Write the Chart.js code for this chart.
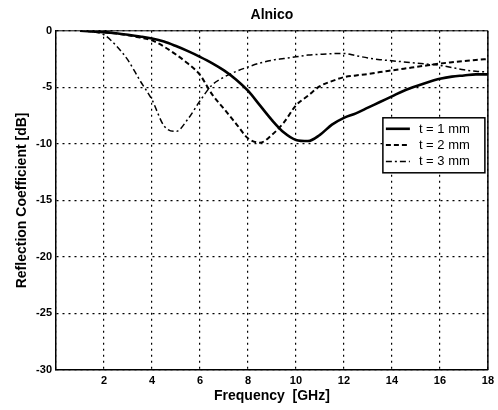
<!DOCTYPE html>
<html>
<head>
<meta charset="utf-8">
<script src="https://cdn.jsdelivr.net/npm/chart.js"></script>
<style>
  html, body { margin: 0; padding: 0; background: #fff; }
  #wrap { width: 498px; height: 410px; }
</style>
</head>
<body>
<div id="wrap"><canvas id="myChart" width="498" height="410"></canvas></div>
<script>
    // frequency points (GHz)
    var freqGHz = [1, 1.5, 2, 2.5, 3, 3.5, 4, 4.5, 5, 5.5, 6, 6.5, 7, 7.5, 8, 8.5, 9, 9.5,
        10, 10.5, 11, 11.5, 12, 12.5, 13, 13.5, 14, 14.5, 15, 15.5, 16, 16.5, 17, 17.5, 18];

    // reflection coefficient [dB]
    var t1mm = [0, -0.05, -0.12, -0.22, -0.35, -0.5, -0.68, -0.95, -1.35, -1.8, -2.3, -2.85, -3.5, -4.3, -5.3, -6.6,
        -7.9, -9.0, -9.65, -9.75, -9.2, -8.3, -7.7, -7.3, -6.8, -6.3, -5.8, -5.3, -4.9, -4.55, -4.25, -4.05, -3.95, -3.85, -3.85];
    var t2mm = [0, -0.05, -0.12, -0.25, -0.4, -0.6, -0.85, -1.4, -2.1, -2.9, -3.9, -5.6, -6.9, -8.2, -9.5, -9.9,
        -9.2, -8.1, -6.6, -5.75, -4.9, -4.45, -4.1, -3.95, -3.82, -3.65, -3.5, -3.35, -3.2, -3.05, -2.9, -2.78, -2.67, -2.58, -2.5];
    var t3mm = [0, -0.08, -0.35, -1.3, -2.6, -4.4, -6.1, -8.4, -8.9, -7.8, -6.2, -4.8, -4.1, -3.6, -3.2, -2.85,
        -2.6, -2.45, -2.3, -2.15, -2.08, -2.02, -2.0, -2.2, -2.4, -2.55, -2.65, -2.75, -2.85, -2.95, -3.05, -3.25, -3.45, -3.58, -3.65];

    var seriesLabels = ['t = 1 mm', 't = 2 mm', 't = 3 mm'];
    var xTicks = [2, 4, 6, 8, 10, 12, 14, 16, 18];
    var yTicks = [0, -5, -10, -15, -20, -25, -30];

    var FONT = "'Liberation Sans', Arial, sans-serif";

    function toPoints(vals) {
        return vals.map(function (v, i) { return { x: freqGHz[i], y: v }; });
    }

    // box around the plot (top/right edges) and the in-plot legend
    var boxAndLegend = {
        id: 'boxAndLegend',
        afterDraw: function (chart) {
            var ctx = chart.ctx, a = chart.chartArea;
            ctx.save();
            ctx.strokeStyle = '#000';
            ctx.lineWidth = 1;
            ctx.beginPath();
            ctx.moveTo(a.left, a.top);
            ctx.lineTo(a.right, a.top);
            ctx.stroke();
            ctx.lineWidth = 1.5;
            ctx.beginPath();
            ctx.moveTo(a.right, a.top);
            ctx.lineTo(a.right, a.bottom);
            ctx.stroke();

            // legend
            var lx = a.right - 105, ly = a.top + 87, lw = 102, lh = 55;
            ctx.fillStyle = '#fff';
            ctx.fillRect(lx, ly, lw, lh);
            ctx.lineWidth = 1.5;
            ctx.strokeRect(lx, ly, lw, lh);
            ctx.font = '13px ' + FONT;
            ctx.textBaseline = 'middle';
            ctx.fillStyle = '#000';
            chart.data.datasets.forEach(function (ds, i) {
                var yy = ly + 11 + i * 16.3;
                ctx.beginPath();
                ctx.lineWidth = ds.borderWidth;
                ctx.setLineDash(ds.borderDash || []);
                ctx.moveTo(lx + 3, yy);
                ctx.lineTo(lx + 27, yy);
                ctx.stroke();
                ctx.setLineDash([]);
                ctx.fillText(ds.label, lx + 36, yy + 0.5);
            });
            ctx.restore();
        }
    };

    var ctx = document.getElementById('myChart').getContext('2d');
    window.myChart = new Chart(ctx, {
        type: 'line',
        data: {
            datasets: [{
                label: seriesLabels[0],
                data: toPoints(t1mm),
                borderColor: '#000',
                borderWidth: 2.6,
                borderDash: []
            }, {
                label: seriesLabels[1],
                data: toPoints(t2mm),
                borderColor: '#000',
                borderWidth: 2,
                borderDash: [5, 3]
            }, {
                label: seriesLabels[2],
                data: toPoints(t3mm),
                borderColor: '#000',
                borderWidth: 1.5,
                borderDash: [6, 3, 2, 3]
            }]
        },
        options: {
            responsive: false,
            animation: false,
            devicePixelRatio: 1,
            layout: { padding: { right: 7, left: 0, top: 0, bottom: 0 } },
            elements: {
                point: { radius: 0 },
                line: { cubicInterpolationMode: 'monotone', fill: false }
            },
            plugins: {
                legend: { display: false },
                tooltip: { enabled: false },
                title: {
                    display: true,
                    fullSize: false,
                    text: 'Alnico',
                    color: '#000',
                    font: { family: FONT, size: 14, weight: 'bold' },
                    padding: { top: 7, bottom: 7 }
                }
            },
            scales: {
                x: {
                    type: 'linear',
                    min: 0,
                    max: 18,
                    afterFit: function (s) { s.height = 40; },
                    afterBuildTicks: function (s) {
                        s.ticks = [0].concat(xTicks).map(function (v) { return { value: v }; });
                    },
                    ticks: {
                        color: '#000',
                        padding: 4,
                        maxRotation: 0,
                        font: { family: FONT, size: 11, weight: 'bold' },
                        callback: function (v) { return v === 0 ? '' : v; }
                    },
                    grid: { color: '#000', lineWidth: 1.2, drawTicks: false },
                    border: { display: true, color: '#000', width: 1.5, dash: [2, 4] },
                    title: {
                        display: true,
                        text: 'Frequency  [GHz]',
                        color: '#000',
                        font: { family: FONT, size: 14, weight: 'bold' },
                        padding: { top: 0, bottom: 5 }
                    }
                },
                y: {
                    type: 'linear',
                    min: -30,
                    max: 0,
                    afterFit: function (s) { s.width = 56; },
                    afterBuildTicks: function (s) {
                        s.ticks = yTicks.map(function (v) { return { value: v }; });
                    },
                    ticks: {
                        color: '#000',
                        padding: 4,
                        font: { family: FONT, size: 11, weight: 'bold' }
                    },
                    grid: { color: '#000', lineWidth: 1.2, drawTicks: false },
                    border: { display: true, color: '#000', width: 1.5, dash: [2, 4] },
                    title: {
                        display: true,
                        text: 'Reflection Coefficient [dB]',
                        color: '#000',
                        font: { family: FONT, size: 14, weight: 'bold' },
                        padding: { top: 14, bottom: 0 }
                    }
                }
            }
        },
        plugins: [boxAndLegend]
    });
</script>
</body>
</html>
